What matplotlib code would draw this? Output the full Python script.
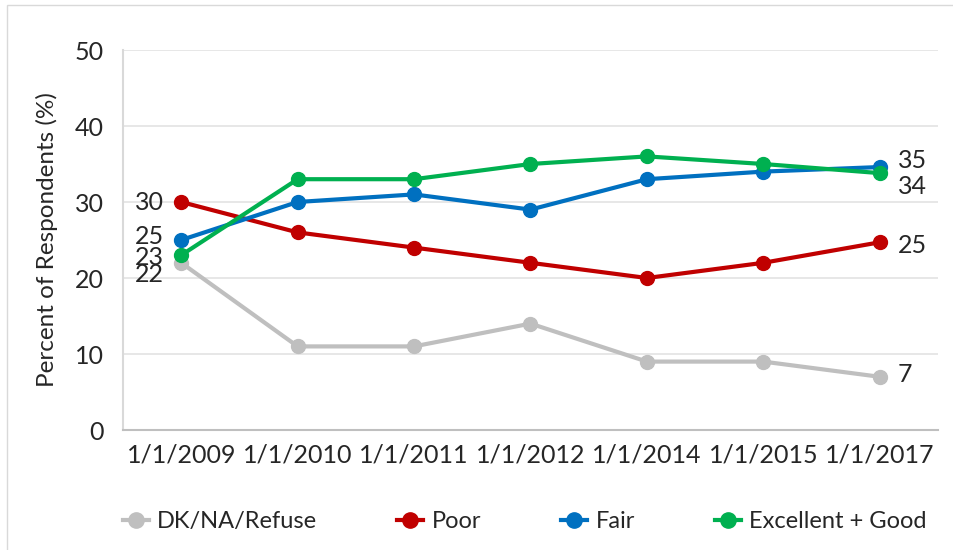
import matplotlib
matplotlib.use("Agg")
from matplotlib import pyplot as plt
from matplotlib.lines import Line2D
from matplotlib.patches import Rectangle

plt.rcParams['font.family'] = ['Lato', 'DejaVu Sans']

# data
dates = ['1/1/2009', '1/1/2010', '1/1/2011', '1/1/2012', '1/1/2014', '1/1/2015', '1/1/2017']
dk = [22, 11, 11, 14, 9, 9, 7]
poor = [30, 26, 24, 22, 20, 22, 24.7]
fair = [25, 30, 31, 29, 33, 34, 34.6]
good = [23, 33, 33, 35, 36, 35, 33.8]

series = [
    ('DK/NA/Refuse', dk, '#BFBFBF'),
    ('Poor', poor, '#C00000'),
    ('Fair', fair, '#0070C0'),
    ('Excellent + Good', good, '#00B050'),
]

fig = plt.figure(figsize=(9.54, 5.5), dpi=100)
ax = fig.add_axes([123 / 954, 1 - 430 / 550, (938 - 123) / 954, 380 / 550])

# thin frame round the whole chart
fig.patches.append(Rectangle((7 / 954, -0.1), 1.2, 1.1 - 5 / 550, transform=fig.transFigure,
                             fill=False, edgecolor='#D9D9D9', linewidth=1))

x = list(range(len(dates)))
for name, vals, col in series:
    ax.plot(x, vals, color=col, linewidth=3, marker='o', markersize=10,
            solid_capstyle='round', label=name, zorder=3)

# end labels (first and last point)
first_off = {'DK/NA/Refuse': -12, 'Poor': 0, 'Fair': 3, 'Excellent + Good': -2}
last_off = {'DK/NA/Refuse': 2, 'Poor': -3, 'Fair': 7, 'Excellent + Good': -13}
for name, vals, col in series:
    ax.annotate('%d' % round(vals[0]), (x[0], vals[0]), xytext=(-17, first_off[name]),
                textcoords='offset pixels', ha='right', va='center', fontsize=18, color='#262626')
    ax.annotate('%d' % round(vals[-1]), (x[-1], vals[-1]), xytext=(18, last_off[name]),
                textcoords='offset pixels', ha='left', va='center', fontsize=18, color='#262626')

ax.set_xlim(-0.5, len(dates) - 0.5)
ax.set_ylim(0, 50)
ax.set_yticks([0, 10, 20, 30, 40, 50])
ax.set_xticks(x)
ax.set_xticklabels(dates)
ax.tick_params(axis='both', length=0, labelsize=18, colors='#262626')
ax.tick_params(axis='y', pad=14)
ax.tick_params(axis='x', pad=10)
ax.set_ylabel('Percent of Respondents (%)', fontsize=17.5, color='#262626', labelpad=12)

ax.grid(axis='y', color='#E3E3E3', linewidth=1.2)
ax.set_axisbelow(True)
for s in ['top', 'right']:
    ax.spines[s].set_visible(False)
ax.spines['left'].set_color('#D9D9D9')
ax.spines['left'].set_linewidth(1.5)
ax.spines['bottom'].set_color('#BFBFBF')
ax.spines['bottom'].set_linewidth(1.5)

handles = [Line2D([], [], color=c, linewidth=3, marker='o', markersize=11) for _, _, c in series]
fig.legend(handles, [n for n, _, _ in series], loc='center', bbox_to_anchor=(0.55, 0.051),
           ncol=4, frameon=False, fontsize=17, handlelength=1.1, handletextpad=0.35,
           columnspacing=3.4, labelcolor='#262626')

fig.savefig('out.png', dpi=100)
